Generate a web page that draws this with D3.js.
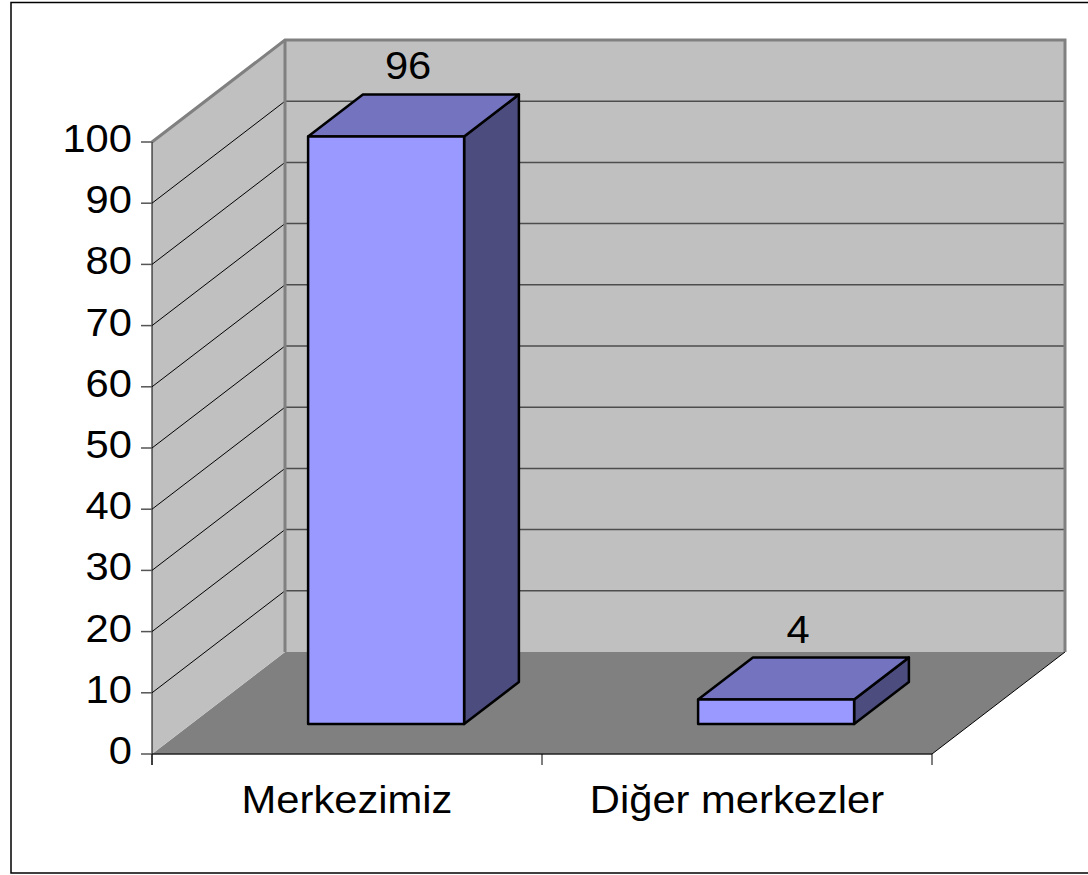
<!DOCTYPE html>
<html>
<head>
<meta charset="utf-8">
<script src="https://cdn.jsdelivr.net/npm/d3@7"></script>
<style>
  html, body { margin: 0; padding: 0; background: #fff; }
  svg { display: block; }
  text { font-family: Arial, "Liberation Sans", sans-serif; fill: #000; }
</style>
</head>
<body>
<svg id="chart" width="1088" height="875"></svg>
<script>
const categories = ["Merkezimiz", "Diğer merkezler"];
const values = [96, 4];
const yTicks = [0, 10, 20, 30, 40, 50, 60, 70, 80, 90, 100];

const svg = d3.select("#chart");

// plot geometry (front plane) and depth offset
const left = 152, right = 932, floorY = 754, topY = 142;
const DX = 133, DY = 102;
const depthFront = 0.294, depthBack = 0.706;
const stretch = 1.07;

const x = d3.scaleBand().domain(categories).range([left, right]).padding(0);
const y = d3.scaleLinear().domain([0, 100]).range([floorY, topY]);
const barW = x.bandwidth() * 0.4;

const P = (px, py, d) => [px + d * DX, py - d * DY];

// outer border
svg.append("rect").attr("x", 11).attr("y", 2.5).attr("width", 1100).attr("height", 870.5)
  .attr("fill", "#fff").attr("stroke", "#000").attr("stroke-width", 1.5);

// floor
svg.append("polygon")
  .attr("points", [P(left, y(0), 0), P(left, y(0), 1), P(right, y(0), 1), P(right, y(0), 0)].map(p => p.join(",")).join(" "))
  .attr("fill", "#808080");
svg.append("line")
  .attr("x1", right).attr("y1", y(0)).attr("x2", right + DX).attr("y2", y(0) - DY)
  .attr("stroke", "#000").attr("stroke-width", 1);

// left wall
svg.append("polygon")
  .attr("points", [P(left, y(0), 0), P(left, y(100), 0), P(left, y(100), 1), P(left, y(0), 1)].map(p => p.join(",")).join(" "))
  .attr("fill", "#C0C0C0");
// back wall
svg.append("rect")
  .attr("x", left + DX).attr("y", y(100) - DY)
  .attr("width", right - left).attr("height", y(0) - y(100))
  .attr("fill", "#C0C0C0");

// gridlines
const grid = yTicks.filter(v => v > 0 && v < 100);
svg.selectAll(".gl").data(grid).enter().append("line")
  .attr("x1", left).attr("y1", d => y(d))
  .attr("x2", left + DX).attr("y2", d => y(d) - DY)
  .attr("stroke", "#000").attr("stroke-width", 1);
svg.selectAll(".gb").data(grid).enter().append("line")
  .attr("x1", left + DX).attr("y1", d => y(d) - DY)
  .attr("x2", right + DX).attr("y2", d => y(d) - DY)
  .attr("stroke", "#4d4d4d").attr("stroke-width", 1.5);

// wall borders
svg.append("path")
  .attr("d", `M${left},${y(100)} L${left + DX},${y(100) - DY} L${right + DX},${y(100) - DY} L${right + DX},${y(0) - DY}`)
  .attr("fill", "none").attr("stroke", "#808080").attr("stroke-width", 3).attr("stroke-linejoin", "miter");
svg.append("line")
  .attr("x1", left + DX).attr("y1", y(100) - DY).attr("x2", left + DX).attr("y2", y(0) - DY)
  .attr("stroke", "#808080").attr("stroke-width", 3);

// axes
svg.append("line").attr("x1", left).attr("y1", y(100)).attr("x2", left).attr("y2", y(0) + 11)
  .attr("stroke", "#000").attr("stroke-width", 1);
svg.append("line").attr("x1", left).attr("y1", y(0)).attr("x2", right).attr("y2", y(0))
  .attr("stroke", "#222").attr("stroke-width", 1.5);

svg.selectAll(".yt").data(yTicks).enter().append("line")
  .attr("x1", left - 11).attr("x2", left).attr("y1", d => y(d)).attr("y2", d => y(d))
  .attr("stroke", "#555").attr("stroke-width", 1.5);
svg.selectAll(".ytl").data(yTicks).enter().append("text")
  .attr("transform", d => `translate(132,${y(d) + 10}) scale(${stretch},1)`)
  .attr("text-anchor", "end").style("font-size", "39px")
  .text(d => d);

const catEdges = [left, ...categories.map(c => x(c) + x.bandwidth())];
svg.selectAll(".xt").data(catEdges).enter().append("line")
  .attr("x1", d => d).attr("x2", d => d).attr("y1", y(0)).attr("y2", y(0) + 11)
  .attr("stroke", "#000").attr("stroke-width", 1);
svg.selectAll(".xtl").data(categories).enter().append("text")
  .attr("transform", d => `translate(${x(d) + x.bandwidth() / 2},${y(0) + 59}) scale(${stretch},1)`)
  .attr("text-anchor", "middle").style("font-size", "39px")
  .text(d => d);

// bars
const data = categories.map((c, i) => ({ c, v: values[i] }));
const bars = svg.selectAll(".bar").data(data).enter().append("g");
const pts = arr => arr.map(p => p.join(",")).join(" ");
bars.each(function(d) {
  const g = d3.select(this);
  const x0 = x(d.c) + (x.bandwidth() - barW) / 2, x1 = x0 + barW;
  const yb = y(0), yt = y(d.v);
  const stroke = { "stroke": "#000", "stroke-width": 2.5, "stroke-linejoin": "round" };
  const face = (points, fill) => {
    const p = g.append("polygon").attr("points", pts(points)).attr("fill", fill);
    Object.entries(stroke).forEach(([k, v]) => p.attr(k, v));
  };
  // right side
  face([P(x1, yb, depthFront), P(x1, yt, depthFront), P(x1, yt, depthBack), P(x1, yb, depthBack)], "#4C4C7F");
  // top
  face([P(x0, yt, depthFront), P(x0, yt, depthBack), P(x1, yt, depthBack), P(x1, yt, depthFront)], "#7373BF");
  // front
  face([P(x0, yb, depthFront), P(x0, yt, depthFront), P(x1, yt, depthFront), P(x1, yb, depthFront)], "#9999FF");
  // value label
  const fc = P((x0 + x1) / 2, yt, depthFront);
  g.append("text")
    .attr("transform", `translate(${fc[0] + 22},${fc[1] - 57}) scale(${stretch},1)`)
    .attr("text-anchor", "middle").style("font-size", "39px")
    .text(d.v);
});
</script>
</body>
</html>
